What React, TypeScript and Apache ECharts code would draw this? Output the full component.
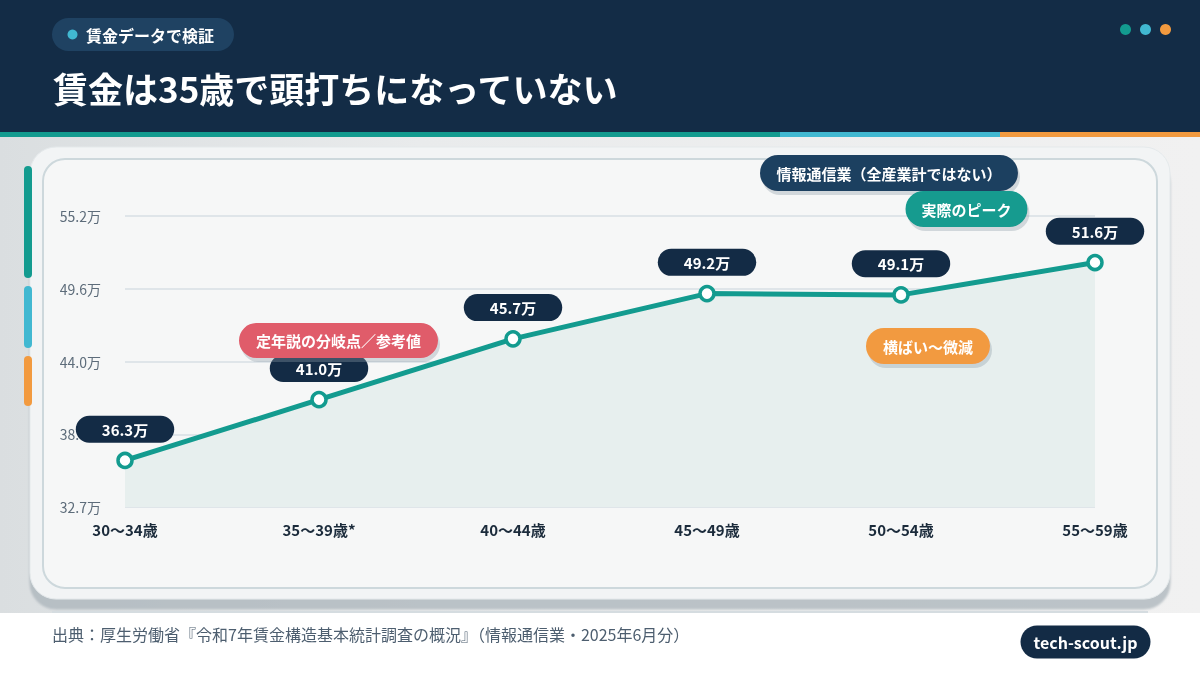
import React, { useEffect, useRef } from 'react';
import * as echarts from 'echarts';

const categories = ['30〜34歳', '35〜39歳*', '40〜44歳', '45〜49歳', '50〜54歳', '55〜59歳'];
const wages = [36.3, 41.0, 45.7, 49.2, 49.1, 51.6];
const yMin = 32.7;
const yMax = 55.2;
const ySplits = 4;

const badgeText = '賃金データで検証';
const titleText = '賃金は35歳で頭打ちになっていない';
const sourceText = '出典：厚生労働省『令和7年賃金構造基本統計調査の概況』（情報通信業・2025年6月分）';
const siteText = 'tech-scout.jp';
const noteTexts = ['定年説の分岐点／参考値', '情報通信業（全産業計ではない）', '実際のピーク', '横ばい〜微減'];

const FONT = '"Noto Sans CJK JP", "Noto Sans", sans-serif';
const NAVY = '#132c46';
const TEAL = '#139b8f';
const CYAN = '#41b8d1';
const ORANGE = '#f29a3f';
const RED = '#e05b6a';

function pill(cx: number, cy: number, w: number, h: number, fill: string, text: string, fontSize: number, shadow: boolean, z: number) {
  return [
    {
      type: 'rect',
      z,
      shape: { x: cx - w / 2, y: cy - h / 2, width: w, height: h, r: h / 2 },
      style: shadow
        ? { fill, shadowColor: 'rgba(140,155,165,0.35)', shadowOffsetY: 4, shadowOffsetX: 2, shadowBlur: 0 }
        : { fill },
    },
    {
      type: 'text',
      z: z + 1,
      style: {
        text,
        x: cx,
        y: cy,
        textAlign: 'center',
        textVerticalAlign: 'middle',
        fill: '#ffffff',
        fontSize,
        fontWeight: 'bold',
        fontFamily: FONT,
      },
    },
  ];
}

export default function App() {
  const ref = useRef<HTMLDivElement>(null);
  useEffect(() => {
    if (!ref.current) return;
    const chart = echarts.init(ref.current, undefined, { renderer: 'svg' });
    const interval = (yMax - yMin) / ySplits;

    const graphics: any[] = [
      { type: 'rect', z: -20, shape: { x: 0, y: 0, width: 1200, height: 675 }, style: { fill: '#ffffff' } },
      {
        type: 'rect', z: -19, shape: { x: 0, y: 137, width: 1200, height: 476 },
        style: {
          fill: new echarts.graphic.LinearGradient(0, 0, 1, 0, [
            { offset: 0, color: '#dadee0' },
            { offset: 0.35, color: '#e9ebec' },
            { offset: 1, color: '#f1f1f1' },
          ]),
        },
      },
      { type: 'rect', z: -18, shape: { x: 0, y: 0, width: 1200, height: 132 }, style: { fill: NAVY } },
      { type: 'rect', z: -18, shape: { x: 0, y: 132, width: 780, height: 5 }, style: { fill: TEAL } },
      { type: 'rect', z: -18, shape: { x: 780, y: 132, width: 220, height: 5 }, style: { fill: CYAN } },
      { type: 'rect', z: -18, shape: { x: 1000, y: 132, width: 200, height: 5 }, style: { fill: ORANGE } },
      { type: 'rect', z: -17, shape: { x: 52, y: 18, width: 182, height: 33, r: 16.5 }, style: { fill: '#1f4262' } },
      { type: 'circle', z: -16, shape: { cx: 72.5, cy: 34.5, r: 5 }, style: { fill: CYAN } },
      {
        type: 'text', z: -16,
        style: { text: badgeText, x: 86, y: 34.5, textVerticalAlign: 'middle', fill: '#ffffff', fontSize: 16, fontWeight: 'bold', fontFamily: FONT },
      },
      {
        type: 'text', z: -16,
        style: { text: titleText, x: 53, y: 87, textVerticalAlign: 'middle', fill: '#ffffff', fontSize: 35, fontWeight: 'bold', fontFamily: FONT },
      },
      { type: 'circle', z: -16, shape: { cx: 1125.5, cy: 29.5, r: 5.5 }, style: { fill: TEAL } },
      { type: 'circle', z: -16, shape: { cx: 1145.5, cy: 29.5, r: 5.5 }, style: { fill: CYAN } },
      { type: 'circle', z: -16, shape: { cx: 1165.5, cy: 29.5, r: 5.5 }, style: { fill: ORANGE } },
      {
        type: 'rect', z: -15, shape: { x: 30, y: 147, width: 1140, height: 452, r: 26 },
        style: { fill: '#f2f4f5', stroke: '#e4e9eb', lineWidth: 1, shadowColor: 'rgba(170,180,186,0.75)', shadowOffsetY: 10, shadowBlur: 2 },
      },
      {
        type: 'rect', z: -14, shape: { x: 43, y: 159, width: 1114, height: 429, r: 22 },
        style: { fill: '#f6f7f7', stroke: '#cdd8dc', lineWidth: 2 },
      },
      { type: 'rect', z: -13, shape: { x: 24, y: 166, width: 8, height: 112, r: 4 }, style: { fill: TEAL } },
      { type: 'rect', z: -13, shape: { x: 24, y: 286, width: 8, height: 62, r: 4 }, style: { fill: CYAN } },
      { type: 'rect', z: -13, shape: { x: 24, y: 356, width: 8, height: 50, r: 4 }, style: { fill: ORANGE } },
      { type: 'rect', z: -12, shape: { x: 52, y: 611, width: 1096, height: 2 }, style: { fill: '#d5dce0' } },
      {
        type: 'text', z: -12,
        style: { text: sourceText, x: 52, y: 634, textVerticalAlign: 'middle', fill: '#4d5e6f', fontSize: 16, fontFamily: FONT },
      },
      ...pill(1085.5, 642, 130, 33, '#132b45', siteText, 16, false, -12),
      ...pill(338.5, 340.5, 199, 35, RED, noteTexts[0], 15, true, 50),
      ...pill(889, 173, 258, 36, '#1f4060', noteTexts[1], 15, true, 50),
      ...pill(966.5, 209, 122, 36, TEAL, noteTexts[2], 15, true, 50),
      ...pill(928, 346, 124, 36, ORANGE, noteTexts[3], 15, true, 50),
    ];

    chart.setOption({
      animation: false,
      textStyle: { fontFamily: FONT },
      grid: { left: 125, right: 105, top: 216, bottom: 168, containLabel: false },
      xAxis: {
        type: 'category',
        data: categories,
        boundaryGap: false,
        axisLine: { show: false },
        axisTick: { show: false },
        axisLabel: { color: '#1b2b3b', fontSize: 15, fontWeight: 'bold', margin: 15, fontFamily: FONT },
      },
      yAxis: {
        type: 'value',
        min: yMin,
        max: yMax,
        interval,
        axisLine: { show: false },
        axisTick: { show: false },
        axisLabel: {
          color: '#5d6c7a',
          fontSize: 14,
          margin: 24,
          fontFamily: FONT,
          formatter: (v: number) => v.toFixed(1) + '万',
        },
        splitLine: { lineStyle: { color: '#dfe5e9', width: 2 } },
      },
      series: [
        {
          type: 'line',
          data: wages,
          symbol: 'circle',
          symbolSize: 14,
          z: 5,
          lineStyle: { color: TEAL, width: 5 },
          itemStyle: { color: '#ffffff', borderColor: TEAL, borderWidth: 3.5 },
          areaStyle: { color: '#e7efee', opacity: 1 },
          label: {
            show: true,
            position: 'top',
            distance: 9,
            formatter: (p: any) => Number(p.value).toFixed(1) + '万',
            backgroundColor: '#132b45',
            color: '#ffffff',
            fontWeight: 'bold',
            fontSize: 15,
            lineHeight: 17,
            fontFamily: FONT,
            padding: [5, 26, 5, 26],
            borderRadius: 14,
          },
        },
      ],
      graphic: { elements: graphics },
    });
    return () => chart.dispose();
  }, []);
  return <div ref={ref} style={{ position: 'fixed', left: 0, top: 0, width: 1200, height: 675 }} />;
}
